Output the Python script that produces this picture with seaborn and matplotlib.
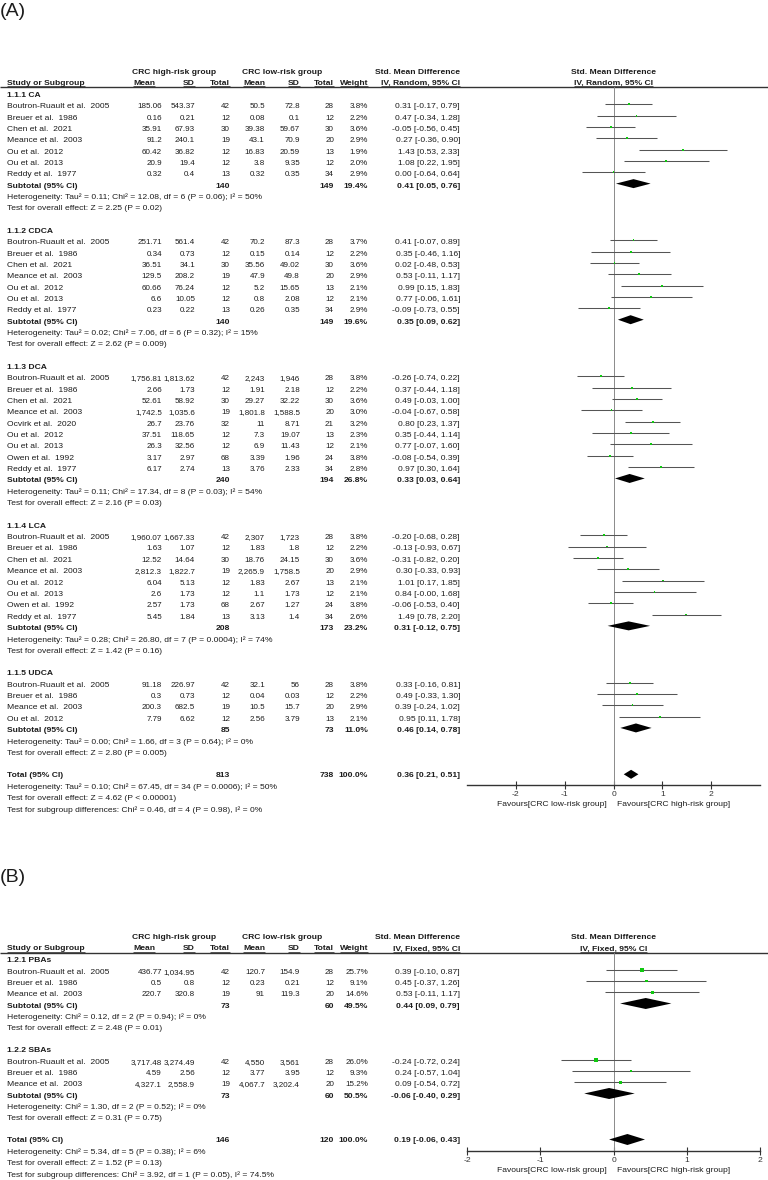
import numpy as np
import pandas as pd
import matplotlib
matplotlib.use("Agg")
import matplotlib.pyplot as plt
import seaborn as sns

# ---------------- DATA : panel A (random effects) ----------------
A_groups = ["1.1.1 CA", "1.1.2 CDCA", "1.1.3 DCA", "1.1.4 LCA", "1.1.5 UDCA"]
A_group_of = ([0] * 7) + ([1] * 7) + ([2] * 9) + ([3] * 8) + ([4] * 4)
A_study = [
    "Boutron-Ruault et al.  2005", "Breuer et al.  1986", "Chen et al.  2021", "Meance et al.  2003",
    "Ou et al.  2012", "Ou et al.  2013", "Reddy et al.  1977",
    "Boutron-Ruault et al.  2005", "Breuer et al.  1986", "Chen et al.  2021", "Meance et al.  2003",
    "Ou et al.  2012", "Ou et al.  2013", "Reddy et al.  1977",
    "Boutron-Ruault et al.  2005", "Breuer et al.  1986", "Chen et al.  2021", "Meance et al.  2003",
    "Ocvirk et al.  2020", "Ou et al.  2012", "Ou et al.  2013", "Owen et al.  1992", "Reddy et al.  1977",
    "Boutron-Ruault et al.  2005", "Breuer et al.  1986", "Chen et al.  2021", "Meance et al.  2003",
    "Ou et al.  2012", "Ou et al.  2013", "Owen et al.  1992", "Reddy et al.  1977",
    "Boutron-Ruault et al.  2005", "Breuer et al.  1986", "Meance et al.  2003", "Ou et al.  2012",
]
A_hi_mean = [185.06, 0.16, 35.91, 91.2, 60.42, 20.9, 0.32,
             251.71, 0.34, 36.51, 129.5, 60.66, 6.6, 0.23,
             1756.81, 2.66, 52.61, 1742.5, 26.7, 37.51, 26.3, 3.17, 6.17,
             1960.07, 1.63, 12.52, 2812.3, 6.04, 2.6, 2.57, 5.45,
             91.18, 0.3, 200.3, 7.79]
A_hi_sd = [543.37, 0.21, 67.93, 240.1, 36.82, 19.4, 0.4,
           561.4, 0.73, 34.1, 208.2, 76.24, 10.05, 0.22,
           1813.62, 1.73, 58.92, 1035.6, 23.76, 118.65, 32.56, 2.97, 2.74,
           1667.33, 1.07, 14.64, 1822.7, 5.13, 1.73, 1.73, 1.84,
           226.97, 0.73, 682.5, 6.62]
A_hi_n = [42, 12, 30, 19, 12, 12, 13,
          42, 12, 30, 19, 12, 12, 13,
          42, 12, 30, 19, 32, 12, 12, 68, 13,
          42, 12, 30, 19, 12, 12, 68, 13,
          42, 12, 19, 12]
A_lo_mean = [50.5, 0.08, 39.38, 43.1, 16.83, 3.8, 0.32,
             70.2, 0.15, 35.56, 47.9, 5.2, 0.8, 0.26,
             2243, 1.91, 29.27, 1801.8, 11, 7.3, 6.9, 3.39, 3.76,
             2307, 1.83, 18.76, 2265.9, 1.83, 1.1, 2.67, 3.13,
             32.1, 0.04, 10.5, 2.56]
A_lo_sd = [72.8, 0.1, 59.67, 70.9, 20.59, 9.35, 0.35,
           87.3, 0.14, 49.02, 49.8, 15.65, 2.08, 0.35,
           1946, 2.18, 32.22, 1588.5, 8.71, 19.07, 11.43, 1.96, 2.33,
           1723, 1.8, 24.15, 1758.5, 2.67, 1.73, 1.27, 1.4,
           56, 0.03, 15.7, 3.79]
A_lo_n = [28, 12, 30, 20, 13, 12, 34,
          28, 12, 30, 20, 13, 12, 34,
          28, 12, 30, 20, 21, 13, 12, 24, 34,
          28, 12, 30, 20, 13, 12, 24, 34,
          28, 12, 20, 13]
A_weight = [3.8, 2.2, 3.6, 2.9, 1.9, 2.0, 2.9,
            3.7, 2.2, 3.6, 2.9, 2.1, 2.1, 2.9,
            3.8, 2.2, 3.6, 3.0, 3.2, 2.3, 2.1, 3.8, 2.8,
            3.8, 2.2, 3.6, 2.9, 2.1, 2.1, 3.8, 2.6,
            3.8, 2.2, 2.9, 2.1]
A_smd = [0.31, 0.47, -0.05, 0.27, 1.43, 1.08, 0.00,
         0.41, 0.35, 0.02, 0.53, 0.99, 0.77, -0.09,
         -0.26, 0.37, 0.49, -0.04, 0.80, 0.35, 0.77, -0.08, 0.97,
         -0.20, -0.13, -0.31, 0.30, 1.01, 0.84, -0.06, 1.49,
         0.33, 0.49, 0.39, 0.95]
A_ci_lo = [-0.17, -0.34, -0.56, -0.36, 0.53, 0.22, -0.64,
           -0.07, -0.46, -0.48, -0.11, 0.15, -0.06, -0.73,
           -0.74, -0.44, -0.03, -0.67, 0.23, -0.44, -0.07, -0.54, 0.30,
           -0.68, -0.93, -0.82, -0.33, 0.17, -0.00, -0.53, 0.78,
           -0.16, -0.33, -0.24, 0.11]
A_ci_hi = [0.79, 1.28, 0.45, 0.90, 2.33, 1.95, 0.64,
           0.89, 1.16, 0.53, 1.17, 1.83, 1.61, 0.55,
           0.22, 1.18, 1.00, 0.58, 1.37, 1.14, 1.60, 0.39, 1.64,
           0.28, 0.67, 0.20, 0.93, 1.85, 1.68, 0.40, 2.20,
           0.81, 1.30, 1.02, 1.78]
A_sub_hi_n = [140, 140, 240, 208, 85]
A_sub_lo_n = [149, 149, 194, 173, 73]
A_sub_weight = [19.4, 19.6, 26.8, 23.2, 11.0]
A_sub_smd = [0.41, 0.35, 0.33, 0.31, 0.46]
A_sub_lo = [0.05, 0.09, 0.03, -0.12, 0.14]
A_sub_hi = [0.76, 0.62, 0.64, 0.75, 0.78]
A_sub_het = [
    "Heterogeneity: Tau\u00b2 = 0.11; Chi\u00b2 = 12.08, df = 6 (P = 0.06); I\u00b2 = 50%",
    "Heterogeneity: Tau\u00b2 = 0.02; Chi\u00b2 = 7.06, df = 6 (P = 0.32); I\u00b2 = 15%",
    "Heterogeneity: Tau\u00b2 = 0.11; Chi\u00b2 = 17.34, df = 8 (P = 0.03); I\u00b2 = 54%",
    "Heterogeneity: Tau\u00b2 = 0.28; Chi\u00b2 = 26.80, df = 7 (P = 0.0004); I\u00b2 = 74%",
    "Heterogeneity: Tau\u00b2 = 0.00; Chi\u00b2 = 1.66, df = 3 (P = 0.64); I\u00b2 = 0%",
]
A_sub_test = [
    "Test for overall effect: Z = 2.25 (P = 0.02)",
    "Test for overall effect: Z = 2.62 (P = 0.009)",
    "Test for overall effect: Z = 2.16 (P = 0.03)",
    "Test for overall effect: Z = 1.42 (P = 0.16)",
    "Test for overall effect: Z = 2.80 (P = 0.005)",
]
A_total = [813, 738, 100.0, 0.36, 0.21, 0.51]
A_total_notes = [
    "Heterogeneity: Tau\u00b2 = 0.10; Chi\u00b2 = 67.45, df = 34 (P = 0.0006); I\u00b2 = 50%",
    "Test for overall effect: Z = 4.62 (P < 0.00001)",
    "Test for subgroup differences: Chi\u00b2 = 0.46, df = 4 (P = 0.98), I\u00b2 = 0%",
]

# ---------------- DATA : panel B (fixed effects) ----------------
B_groups = ["1.2.1 PBAs", "1.2.2 SBAs"]
B_group_of = [0, 0, 0, 1, 1, 1]
B_study = ["Boutron-Ruault et al.  2005", "Breuer et al.  1986", "Meance et al.  2003",
           "Boutron-Ruault et al.  2005", "Breuer et al.  1986", "Meance et al.  2003"]
B_hi_mean = [436.77, 0.5, 220.7, 3717.48, 4.59, 4327.1]
B_hi_sd = [1034.95, 0.8, 320.8, 3274.49, 2.56, 2558.9]
B_hi_n = [42, 12, 19, 42, 12, 19]
B_lo_mean = [120.7, 0.23, 91, 4550, 3.77, 4067.7]
B_lo_sd = [154.9, 0.21, 119.3, 3561, 3.95, 3202.4]
B_lo_n = [28, 12, 20, 28, 12, 20]
B_weight = [25.7, 9.1, 14.6, 26.0, 9.3, 15.2]
B_smd = [0.39, 0.45, 0.53, -0.24, 0.24, 0.09]
B_ci_lo = [-0.10, -0.37, -0.11, -0.72, -0.57, -0.54]
B_ci_hi = [0.87, 1.26, 1.17, 0.24, 1.04, 0.72]
B_sub_hi_n = [73, 73]
B_sub_lo_n = [60, 60]
B_sub_weight = [49.5, 50.5]
B_sub_smd = [0.44, -0.06]
B_sub_lo = [0.09, -0.40]
B_sub_hi = [0.79, 0.29]
B_sub_het = ["Heterogeneity: Chi\u00b2 = 0.12, df = 2 (P = 0.94); I\u00b2 = 0%",
             "Heterogeneity: Chi\u00b2 = 1.30, df = 2 (P = 0.52); I\u00b2 = 0%"]
B_sub_test = ["Test for overall effect: Z = 2.48 (P = 0.01)",
              "Test for overall effect: Z = 0.31 (P = 0.75)"]
B_total = [146, 120, 100.0, 0.19, -0.06, 0.43]
B_total_notes = [
    "Heterogeneity: Chi\u00b2 = 5.34, df = 5 (P = 0.38); I\u00b2 = 6%",
    "Test for overall effect: Z = 1.52 (P = 0.13)",
    "Test for subgroup differences: Chi\u00b2 = 3.92, df = 1 (P = 0.05), I\u00b2 = 74.5%",
]

TICKS = [-2, -1, 0, 1, 2]

# ---------------- STYLE ----------------
sns.set_theme(style="white")
plt.rcParams['font.family'] = ['Liberation Sans', 'DejaVu Sans']

W, H = 768, 1180
FS = 6.1
FS_NUM = 5.8
TXT = "#1c1c1c"
GREEN = "#10c810"
LINEC = "#555555"

fig = plt.figure(figsize=(W / 100, H / 100), dpi=100)
ax = fig.add_axes([0, 0, 1, 1])
ax.set_xlim(0, W)
ax.set_ylim(H, 0)
ax.axis("off")

X_STUDY = 7
X_COLS = [162, 195, 230, 265, 300, 334, 368, 460]
F_LEFT, F_RIGHT = 467, 760
F_ZERO = 613.5

underlined = []


def fmt(v):
    return f"{v:,}"


def eff(s, l, h):
    return f"{s:.2f} [{l:.2f}, {h:.2f}]"


def t(x, y, s, ha="left", bold=False, size=FS, ul=False):
    obj = ax.text(x, y, s, ha=ha, va="center", fontsize=size, color=TXT,
                  fontweight="bold" if bold else "normal")
    if ul:
        underlined.append(obj)
    return obj


def panel(label, label_y, grp_y, col_y, line_y, row0, dy, axis_y, xlim, method,
          groups, group_of, study, hm, hs, hn, lm, ls, ln, wt, smd, cl, ch,
          shn, sln, sw, ssmd, slo, shi, shet, stest, total, tnotes, dia_h):
    t(0, label_y, label, size=14)
    # header
    t(174, grp_y, "CRC high-risk group", ha="center", bold=True)
    t(282, grp_y, "CRC low-risk group", ha="center", bold=True)
    t(460, grp_y, "Std. Mean Difference", ha="right", bold=True)
    t(F_ZERO, grp_y, "Std. Mean Difference", ha="center", bold=True)
    t(X_STUDY, col_y, "Study or Subgroup", bold=True, ul=True)
    for x, s in zip([155, 195, 230, 265, 300, 334, 368, 460],
                    ["Mean", "SD", "Total", "Mean", "SD", "Total", "Weight", method]):
        t(x, col_y, s, ha="right", bold=True, ul=True)
    t(F_ZERO, col_y, method, ha="center", bold=True, ul=True)
    ax.plot([0, W], [line_y, line_y], color="#333333", lw=1.0, solid_capstyle="butt")

    # forest axes
    fa = fig.add_axes([F_LEFT / W, 1 - axis_y / H, (F_RIGHT - F_LEFT) / W, (axis_y - line_y) / H])
    fa.set_xlim(*xlim)
    fa.set_ylim(axis_y, line_y)
    fa.patch.set_alpha(0)
    for sp in ["left", "right", "top"]:
        fa.spines[sp].set_visible(False)
    fa.spines["bottom"].set_color("#333333")
    fa.spines["bottom"].set_linewidth(1.0)
    fa.set_yticks([])
    fa.set_xticks(TICKS)
    fa.set_xticklabels([str(v) for v in TICKS])
    fa.tick_params(axis="x", direction="inout", length=6, width=0.8, color="#333333",
                   labelsize=FS, labelcolor="#333333", pad=1.5, bottom=True)
    fa.axvline(0, color="#8a8a8a", lw=0.7, zorder=1)

    off = -2.5
    r = 0
    pts_x, pts_y, pts_s = [], [], []
    for gi, gname in enumerate(groups):
        y = row0 + r * dy
        t(X_STUDY, y, gname, bold=True)
        r += 1
        for i in [k for k, g in enumerate(group_of) if g == gi]:
            y = row0 + r * dy
            t(X_STUDY, y, study[i])
            vals = [fmt(hm[i]), fmt(hs[i]), fmt(hn[i]), fmt(lm[i]), fmt(ls[i]), fmt(ln[i]),
                    f"{wt[i]:.1f}%"]
            for x, s in zip(X_COLS[:-1], vals):
                t(x, y, s, ha="right", size=FS_NUM)
            t(X_COLS[-1], y, eff(smd[i], cl[i], ch[i]), ha="right")
            fa.hlines(y + off, cl[i], ch[i], color=LINEC, lw=0.75, zorder=2)
            pts_x.append(smd[i])
            pts_y.append(y + off)
            side_px = max(1.9, 0.8 * np.sqrt(wt[i]))
            pts_s.append((side_px * 0.72) ** 2)
            r += 1
        y = row0 + r * dy
        t(X_STUDY, y, "Subtotal (95% CI)", bold=True)
        for x, s in zip([230, 334, 368, 460],
                        [fmt(shn[gi]), fmt(sln[gi]), f"{sw[gi]:.1f}%", eff(ssmd[gi], slo[gi], shi[gi])]):
            t(x, y, s, ha="right", bold=True)
        fa.fill([slo[gi], ssmd[gi], shi[gi], ssmd[gi]],
                [y + off, y + off - dia_h, y + off, y + off + dia_h], color="black", lw=0, zorder=3)
        r += 1
        t(X_STUDY, row0 + r * dy, shet[gi])
        r += 1
        t(X_STUDY, row0 + r * dy, stest[gi])
        r += 2
    y = row0 + r * dy
    t(X_STUDY, y, "Total (95% CI)", bold=True)
    for x, s in zip([230, 334, 368, 460],
                    [fmt(total[0]), fmt(total[1]), f"{total[2]:.1f}%", eff(total[3], total[4], total[5])]):
        t(x, y, s, ha="right", bold=True)
    fa.fill([total[4], total[3], total[5], total[3]],
            [y + off + 1, y + off + 1 - dia_h, y + off + 1, y + off + 1 + dia_h], color="black", lw=0, zorder=3)
    for k, note in enumerate(tnotes):
        t(X_STUDY, y + (k + 1) * dy, note)

    df = pd.DataFrame({"smd": pts_x, "y": pts_y, "s": pts_s})
    sns.scatterplot(data=df, x="smd", y="y", s=df["s"].values, marker="s", color=GREEN,
                    linewidth=0, ax=fa, legend=False, zorder=4)
    fa.set_xlabel("")
    fa.set_ylabel("")
    fa.set_ylim(axis_y, line_y)

    t(607, axis_y + 19, "Favours[CRC low-risk group]", ha="right")
    t(617, axis_y + 19, "Favours[CRC high-risk group]", ha="left")


panel("(A)", 11, 72.7, 83.3, 87.3, 95.4, 11.34, 785, (-3, 3), "IV, Random, 95% CI",
      A_groups, A_group_of, A_study, A_hi_mean, A_hi_sd, A_hi_n, A_lo_mean, A_lo_sd, A_lo_n,
      A_weight, A_smd, A_ci_lo, A_ci_hi,
      A_sub_hi_n, A_sub_lo_n, A_sub_weight, A_sub_smd, A_sub_lo, A_sub_hi, A_sub_het, A_sub_test,
      A_total, A_total_notes, 4.5)

panel("(B)", 877, 937.7, 949, 953.3, 961, 11.25, 1151, (-2, 2), "IV, Fixed, 95% CI",
      B_groups, B_group_of, B_study, B_hi_mean, B_hi_sd, B_hi_n, B_lo_mean, B_lo_sd, B_lo_n,
      B_weight, B_smd, B_ci_lo, B_ci_hi,
      B_sub_hi_n, B_sub_lo_n, B_sub_weight, B_sub_smd, B_sub_lo, B_sub_hi, B_sub_het, B_sub_test,
      B_total, B_total_notes, 5.5)

# underline header labels
fig.canvas.draw()
rend = fig.canvas.get_renderer()
inv = ax.transData.inverted()
for obj in underlined:
    bb = obj.get_window_extent(rend)
    (x0, y0), (x1, y1) = inv.transform([[bb.x0, bb.y0], [bb.x1, bb.y1]])
    ax.plot([x0, x1], [y0 - 1.0, y0 - 1.0], color=TXT, lw=0.5, solid_capstyle="butt")

fig.savefig("out.png", dpi=100)
